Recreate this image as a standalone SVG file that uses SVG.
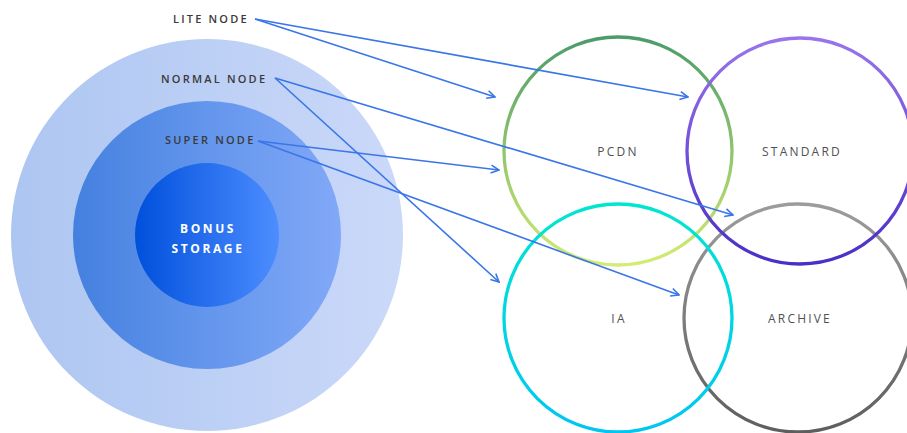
<svg xmlns="http://www.w3.org/2000/svg" width="907" height="433" viewBox="0 0 907 433">
  <style>
    .lbl { font-family: "Open Sans", "Liberation Sans", sans-serif; font-size: 11px; font-weight: 600; letter-spacing: 2.2px; fill: #3a3a3a; }
    .tier { font-family: "Open Sans", "Liberation Sans", sans-serif; font-size: 12px; letter-spacing: 2.2px; fill: #505050; text-anchor: middle; }
    .bonus { font-family: "Open Sans", "Liberation Sans", sans-serif; font-size: 12px; font-weight: 700; letter-spacing: 2.6px; fill: #ffffff; text-anchor: middle; }
    .ring { fill: none; stroke-width: 3.3; }
    .link { fill: none; stroke: #3a76e8; stroke-width: 1.6; marker-end: url(#chev); }
  </style>
  <defs>
    <marker id="chev" viewBox="0 0 10 10" refX="9" refY="5" markerWidth="10" markerHeight="10" markerUnits="userSpaceOnUse" orient="auto">
      <path d="M1,1 L9,5 L1,9" fill="none" stroke="#3a76e8" stroke-width="1.6"/>
    </marker>
    <linearGradient id="gOuter" x1="0" y1="0" x2="1" y2="0">
      <stop offset="0" stop-color="#adc6f1"/>
      <stop offset="0.5" stop-color="#bccff5"/>
      <stop offset="1" stop-color="#cbd9f9"/>
    </linearGradient>
    <linearGradient id="gMid" x1="0" y1="0" x2="1" y2="0">
      <stop offset="0" stop-color="#4580e0"/>
      <stop offset="0.5" stop-color="#6396ec"/>
      <stop offset="1" stop-color="#82a8f8"/>
    </linearGradient>
    <linearGradient id="gInner" x1="0" y1="0" x2="1" y2="0">
      <stop offset="0" stop-color="#0050dc"/>
      <stop offset="1" stop-color="#4d8dff"/>
    </linearGradient>
    <linearGradient id="gPcdn" x1="0" y1="0" x2="0" y2="1">
      <stop offset="0" stop-color="#4b9c6a"/>
      <stop offset="1" stop-color="#d4ec72"/>
    </linearGradient>
    <linearGradient id="gStd" x1="0" y1="0" x2="0" y2="1">
      <stop offset="0" stop-color="#9a74ea"/>
      <stop offset="1" stop-color="#4a2ec6"/>
    </linearGradient>
    <linearGradient id="gIa" x1="0" y1="0" x2="0" y2="1">
      <stop offset="0" stop-color="#00e6d0"/>
      <stop offset="1" stop-color="#00c6f2"/>
    </linearGradient>
    <linearGradient id="gArc" x1="0" y1="0" x2="0" y2="1">
      <stop offset="0" stop-color="#9c9c9c"/>
      <stop offset="1" stop-color="#5e5e5e"/>
    </linearGradient>
  </defs>

  <!-- nested node tiers -->
  <g id="normal-node">
    <circle cx="207" cy="235" r="196" fill="url(#gOuter)"/>
    <text class="lbl" x="161" y="83">NORMAL NODE</text>
  </g>
  <g id="super-node">
    <circle cx="207" cy="235" r="134" fill="url(#gMid)"/>
    <text class="lbl" x="165" y="144">SUPER NODE</text>
  </g>
  <g id="bonus-storage">
    <circle cx="207" cy="235" r="72" fill="url(#gInner)"/>
    <text class="bonus" x="208" y="233">BONUS</text>
    <text class="bonus" x="208" y="253">STORAGE</text>
  </g>
  <g id="lite-node">
    <text class="lbl" x="173" y="23">LITE NODE</text>
  </g>

  <!-- storage tiers -->
  <g id="pcdn">
    <circle class="ring" cx="618" cy="151" r="114" stroke="url(#gPcdn)"/>
    <text class="tier" x="618" y="156">PCDN</text>
  </g>
  <g id="archive">
    <circle class="ring" cx="798" cy="318" r="114" stroke="url(#gArc)"/>
    <text class="tier" x="800" y="323">ARCHIVE</text>
  </g>
  <g id="ia">
    <circle class="ring" cx="618" cy="318" r="114" stroke="url(#gIa)"/>
    <text class="tier" x="619" y="323">IA</text>
  </g>
  <g id="standard">
    <circle class="ring" cx="800" cy="151" r="113" stroke="url(#gStd)"/>
    <text class="tier" x="802" y="156">STANDARD</text>
  </g>

  <!-- connectors -->
  <g id="connectors">
    <line class="link" x1="255" y1="19" x2="495" y2="97"/>
    <line class="link" x1="255" y1="19" x2="688" y2="97"/>
    <line class="link" x1="275" y1="78" x2="733" y2="215"/>
    <line class="link" x1="275" y1="78" x2="499" y2="282"/>
    <line class="link" x1="258" y1="141" x2="499" y2="170"/>
    <line class="link" x1="258" y1="141" x2="679" y2="295"/>
  </g>
</svg>
